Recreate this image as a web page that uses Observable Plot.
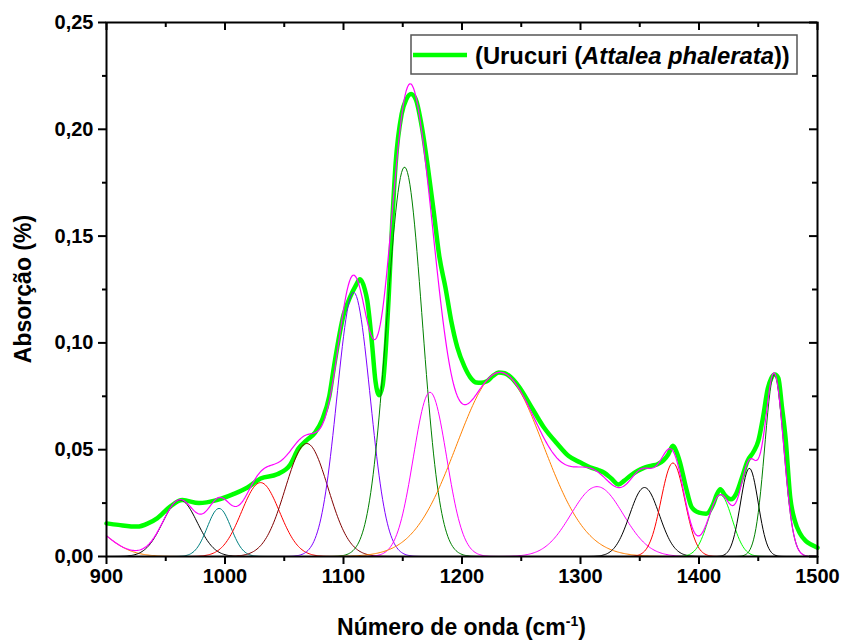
<!DOCTYPE html>
<html><head><meta charset="utf-8">
<script src="https://cdn.jsdelivr.net/npm/d3@7"></script>
<script src="https://cdn.jsdelivr.net/npm/@observablehq/plot@0.6"></script>
<style>
body{margin:0;background:#fff;}
#chart{width:844px;height:642px;}
</style>
</head><body><div id="chart"></div>
<script>
// ---- tick values ----
const xMajorTicks = [900, 1000, 1100, 1200, 1300, 1400, 1500];
const xMinorTicks = [950, 1050, 1150, 1250, 1350, 1450];
const yMajorTicks = [0, 0.05, 0.10, 0.15, 0.20, 0.25];
const yMinorTicks = [0.025, 0.075, 0.125, 0.175, 0.225];

// ---- measured spectrum (green) ----
const spectrumWavenumber = [900, 910, 926, 935, 943, 954, 964, 978, 993, 1007, 1019, 1030, 1044, 1055, 1062, 1069, 1076, 1082, 1088, 1092, 1100, 1106, 1110, 1114, 1118, 1120, 1124, 1127, 1130, 1133, 1136, 1138, 1141, 1144, 1149, 1153, 1157, 1161, 1166, 1171, 1176, 1181, 1186, 1191, 1196, 1202, 1207, 1212, 1216, 1221, 1226, 1231, 1236, 1241, 1248, 1258, 1269, 1280, 1290, 1300, 1308, 1315, 1320, 1326, 1332, 1337, 1342, 1348, 1353, 1360, 1365, 1370, 1374, 1378, 1381, 1384, 1389, 1394, 1400, 1406, 1412, 1415, 1418, 1422, 1427, 1431, 1436, 1441, 1446, 1450, 1454, 1458, 1461, 1464, 1467, 1470, 1473, 1477, 1481, 1485, 1490, 1495, 1500];
const spectrumAbsorbance = [0.0155, 0.0148, 0.0140, 0.0155, 0.0180, 0.0235, 0.0264, 0.0250, 0.0264, 0.0292, 0.0323, 0.0365, 0.0385, 0.0430, 0.0505, 0.0545, 0.0580, 0.0640, 0.0750, 0.0890, 0.1130, 0.1220, 0.1265, 0.1298, 0.1250, 0.1200, 0.1000, 0.0820, 0.0755, 0.0800, 0.1000, 0.1200, 0.1550, 0.1840, 0.2070, 0.2140, 0.2165, 0.2140, 0.2015, 0.1830, 0.1620, 0.1400, 0.1260, 0.1100, 0.0980, 0.0890, 0.0839, 0.0815, 0.0813, 0.0820, 0.0845, 0.0862, 0.0858, 0.0840, 0.0795, 0.0705, 0.0605, 0.0530, 0.0470, 0.0440, 0.0418, 0.0405, 0.0392, 0.0365, 0.0337, 0.0355, 0.0378, 0.0400, 0.0414, 0.0425, 0.0432, 0.0450, 0.0478, 0.0518, 0.0490, 0.0440, 0.0323, 0.0229, 0.0205, 0.0200, 0.0245, 0.0290, 0.0315, 0.0286, 0.0268, 0.0290, 0.0365, 0.0448, 0.0490, 0.0540, 0.0650, 0.0785, 0.0835, 0.0852, 0.0835, 0.0700, 0.0557, 0.0276, 0.0165, 0.0110, 0.0073, 0.0055, 0.0041];

// ---- fitted Gaussian peaks ----
const peakCenter = [870, 962, 995, 1030, 1069, 1108.5, 1151.5, 1173, 1232, 1314, 1354, 1378, 1418, 1442.5, 1463.5];
const peakHeight = [0.020, 0.0265, 0.0225, 0.0346, 0.0529, 0.1237, 0.1823, 0.0769, 0.0862, 0.0327, 0.0323, 0.0438, 0.0288, 0.0413, 0.0852];
const peakSigma  = [25, 14.5, 10, 16, 18, 14, 15, 14, 36.5, 22, 12.5, 10, 10, 7.5, 8];
const peakColor  = ["#ff8000", "#000000", "#008080", "#ff0000", "#800000", "#8000ff", "#008000", "#ff00ff", "#ff8000", "#ff00ff", "#000000", "#ff0000", "#00ff00", "#000000", "#008000"];

const legendLabel = ["(Urucuri (", "Attalea phalerata", "))"];
const xTitle = ["Número de onda (cm", "-1", ")"];
const yTitle = "Absorção (%)";

// ---- build tables ----
const spectrum = spectrumWavenumber.map((x, i) => ({x, y: spectrumAbsorbance[i]}));
const grid = d3.range(900, 1500.01, 1);
const gauss = (i, x) => peakHeight[i] * Math.exp(-((x - peakCenter[i]) ** 2) / (2 * peakSigma[i] ** 2));
const components = peakCenter.map((c, i) => grid.map(x => ({x, y: gauss(i, x)})));
const cumulative = grid.map(x => ({x, y: peakCenter.reduce((s, c, i) => s + gauss(i, x), 0)}));

const W = 844, H = 642, mL = 106, mR = 27, mT = 22, mB = 86;
const fW = W - mL - mR, fH = H - mT - mB;
const FONT = "'Liberation Sans', Arial, sans-serif";
const fmtY = d => d.toFixed(2).replace(".", ",");

const plot = Plot.plot({
  width: W, height: H,
  marginLeft: mL, marginRight: mR, marginTop: mT, marginBottom: mB,
  style: {fontFamily: FONT, background: "#fff", color: "#000", overflow: "visible"},
  x: {domain: [900, 1500]},
  y: {domain: [0, 0.25]},
  marks: [
    Plot.line(spectrum, {x: "x", y: "y", stroke: "#00ff00", strokeWidth: 4.5, curve: "monotone-x"}),
    ...components.map((comp, i) => Plot.line(comp, {x: "x", y: "y", stroke: peakColor[i], strokeWidth: 1})),
    Plot.line(cumulative, {x: "x", y: "y", stroke: "#ff00ff", strokeWidth: 1.2}),
    Plot.frame({stroke: "#000", strokeWidth: 2}),
    Plot.axisX({ticks: xMajorTicks, tickSize: 8, tickPadding: 4, tickFormat: d => String(d), label: null, fontSize: 20, fontWeight: "bold", strokeWidth: 2}),
    Plot.axisX({ticks: xMinorTicks, tickSize: 5, tickFormat: () => "", label: null, strokeWidth: 2}),
    Plot.axisY({ticks: yMajorTicks, tickSize: 8, tickPadding: 5, tickFormat: fmtY, label: null, fontSize: 20, fontWeight: "bold", strokeWidth: 2}),
    Plot.axisY({ticks: yMinorTicks, tickSize: 4, tickFormat: () => "", label: null, strokeWidth: 2}),
    Plot.tickX(xMajorTicks, {x: d => d, insetBottom: fH - 8, stroke: "#000", strokeWidth: 2}),
    Plot.tickX(xMinorTicks, {x: d => d, insetBottom: fH - 5, stroke: "#000", strokeWidth: 2}),
    Plot.tickY(yMajorTicks, {y: d => d, insetLeft: fW - 8, stroke: "#000", strokeWidth: 2}),
    Plot.tickY(yMinorTicks, {y: d => d, insetLeft: fW - 5, stroke: "#000", strokeWidth: 2})
  ]
});
document.getElementById("chart").appendChild(plot);

// ---- titles and legend ----
const svg = d3.select(plot);
svg.append("text")
  .attr("transform", `translate(31,${mT + fH / 2}) rotate(-90)`)
  .attr("text-anchor", "middle")
  .style("font-family", FONT).style("font-weight", "bold").style("font-size", "23px")
  .text(yTitle);

const xt = svg.append("text")
  .attr("x", mL + fW / 2).attr("y", 635)
  .attr("text-anchor", "middle")
  .style("font-family", FONT).style("font-weight", "bold").style("font-size", "23px");
xt.append("tspan").text(xTitle[0]);
xt.append("tspan").attr("dy", -9).style("font-size", "14px").text(xTitle[1]);
xt.append("tspan").attr("dy", 9).text(xTitle[2]);

const lg = svg.append("g");
lg.append("rect").attr("x", 411).attr("y", 35).attr("width", 386).attr("height", 39)
  .attr("fill", "#fff").attr("stroke", "#555").attr("stroke-width", 1.5);
lg.append("line").attr("x1", 413).attr("x2", 467).attr("y1", 55).attr("y2", 55)
  .attr("stroke", "#00ff00").attr("stroke-width", 4.5);
const lt = lg.append("text").attr("x", 475).attr("y", 64)
  .attr("text-anchor", "start")
  .style("font-family", FONT).style("font-weight", "bold").style("font-size", "23.8px");
lt.append("tspan").text(legendLabel[0]);
lt.append("tspan").style("font-style", "italic").text(legendLabel[1]);
lt.append("tspan").text(legendLabel[2]);
</script>
</body></html>
